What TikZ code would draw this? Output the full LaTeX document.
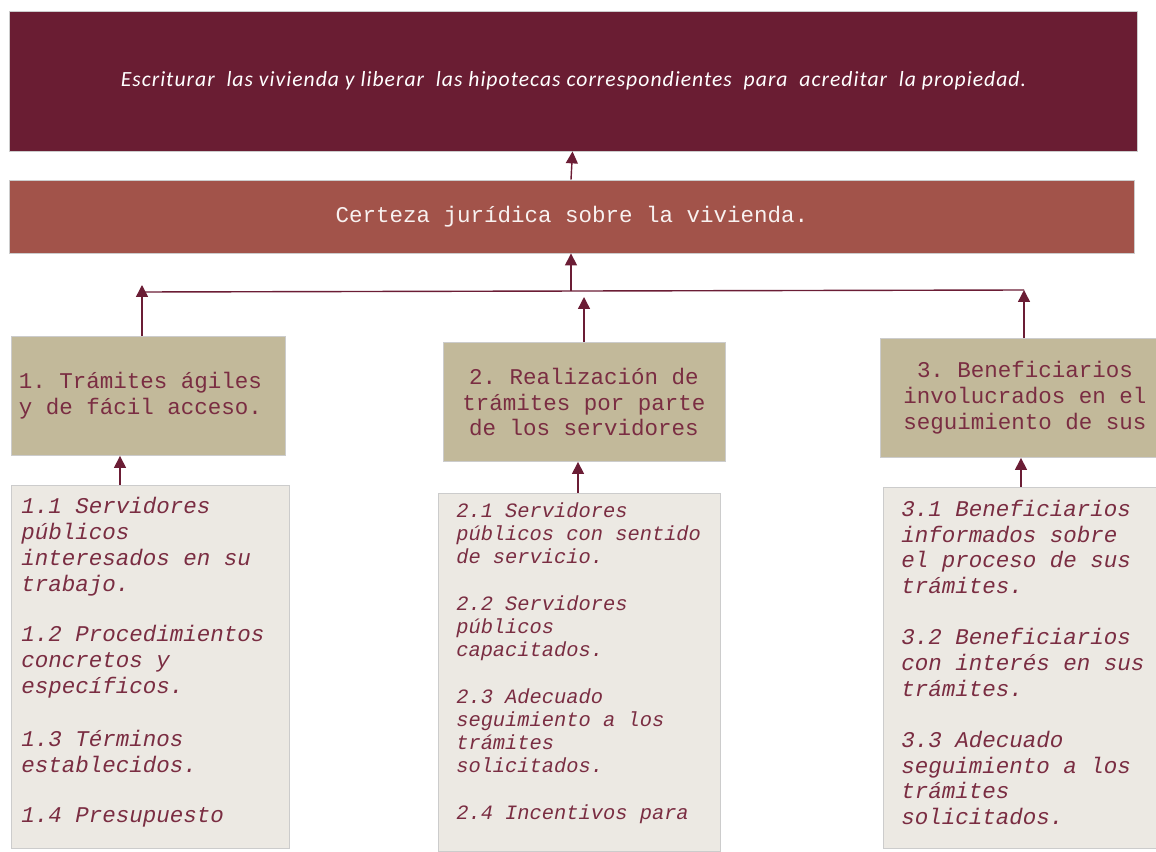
\documentclass[tikz,border=0pt]{standalone}
\usepackage{fontspec}
\setmainfont{Carlito}
\newfontfamily\calib[LetterSpace=4.7]{Carlito}
\newfontfamily\cour{Liberation Mono}
\usetikzlibrary{arrows.meta}
\definecolor{vino}{HTML}{6A1D33}
\definecolor{ladrillo}{HTML}{A2534A}
\definecolor{arena}{HTML}{C2B99A}
\definecolor{hueso}{HTML}{ECE9E3}
\definecolor{flecha}{HTML}{6B1D35}
\definecolor{letra}{HTML}{7A2D42}
\frenchspacing

\begin{document}
\begin{tikzpicture}[x=0.025cm, y=-0.025cm,
    caja/.style={draw=gray!40, line width=0.6pt, inner sep=0pt},
    fin/.style={caja, fill=vino, text=white, minimum width=28.175cm, minimum height=3.5cm,
      font=\calib\fontsize{15.4}{18}\selectfont\itshape},
    proposito/.style={caja, fill=ladrillo, text=white!92!ladrillo, minimum width=28.1cm, minimum height=1.825cm,
      font=\cour\fontsize{16}{18.4}\selectfont},
    componente/.style={caja, fill=arena, text=letra, minimum height=2.975cm,
      font=\cour\fontsize{16}{18.4}\selectfont},
    actividad/.style={caja, fill=hueso},
    lista/.style={anchor=north west, inner sep=0pt, align=left, text=letra},
    flechita/.style={draw=flecha, line width=1pt, -{Triangle[width=8.5pt,length=8.5pt]}}]
    \useasboundingbox (0,0) rectangle (1156,852);
    % Fin y proposito
    \node[fin] (escriturar) at (573.5,81) {Escriturar\ \ las vivienda y liberar\ \ las hipotecas correspondientes\ \ para\ \ acreditar\ \ la propiedad.};
    \node[proposito] (certeza) at (572,216.5) {Certeza jurídica sobre la vivienda.};
    % Componentes
    \node[componente, minimum width=6.85cm, text width=6.45cm, align=flush left] (comp1) at (148,396) {1. Trámites ágiles\\y de fácil acceso.};
    \node[componente, minimum width=7.05cm, align=center] (comp2) at (584,402) {2. Realización de\\trámites por parte\\de los servidores};
    \node[componente, minimum width=7.25cm, align=center] (comp3) at (1025,398) {3. Beneficiarios\\involucrados en el\\seguimiento de sus};
    % Actividades
    \node[actividad, minimum width=6.95cm, minimum height=9.075cm] (act1) at (150,666.5) {};
    \node[actividad, minimum width=7.05cm, minimum height=8.95cm] (act2) at (579,672) {};
    \node[actividad, minimum width=6.925cm, minimum height=9.025cm] (act3) at (1021.5,667.5) {};
    \node[lista, font=\cour\itshape\fontsize{16}{18.4}\selectfont] (txt1) at (21,497)
      {1.1 Servidores\\públicos\\interesados en su\\trabajo.\\[17.7pt]
       1.2 Procedimientos\\concretos y\\específicos.\\[19pt]
       1.3 Términos\\establecidos.\\[17.7pt]
       1.4 Presupuesto};
    \node[lista, font=\cour\itshape\fontsize{14.5}{16.4}\selectfont] (txt2) at (456,502)
      {2.1 Servidores\\públicos con sentido\\de servicio.\\[17pt]
       2.2 Servidores\\públicos\\capacitados.\\[17pt]
       2.3 Adecuado\\seguimiento a los\\trámites\\solicitados.\\[17pt]
       2.4 Incentivos para};
    \node[lista, font=\cour\itshape\fontsize{16}{18.2}\selectfont] (txt3) at (901,500)
      {3.1 Beneficiarios\\informados sobre\\el proceso de sus\\trámites.\\[18.5pt]
       3.2 Beneficiarios\\con interés en sus\\trámites.\\[18.5pt]
       3.3 Adecuado\\seguimiento a los\\trámites\\solicitados.};
    % Conectores
    \coordinate (j1) at (142,285);
    \coordinate (j2) at (584,297);
    \coordinate (j3) at (1024,290);
    \coordinate (nudo) at (571,291);
    \draw[flecha, line width=1pt] (142,292) -- (j3);
    \draw[flechita] (120,0 |- act1.north) -- (120,0 |- comp1.south);
    \draw[flechita] (578,0 |- act2.north) -- (578,0 |- comp2.south);
    \draw[flechita] (1021,0 |- act3.north) -- (1021,0 |- comp3.south);
    \draw[flechita] (142,0 |- comp1.north) -- (j1);
    \draw[flechita] (584,0 |- comp2.north) -- (j2);
    \draw[flechita] (1024,0 |- comp3.north) -- (j3);
    \draw[flechita] (nudo) -- (571,0 |- certeza.south);
    \draw[flechita] (571,0 |- certeza.north) -- (572.5,0 |- escriturar.south);
\end{tikzpicture}
\end{document}
